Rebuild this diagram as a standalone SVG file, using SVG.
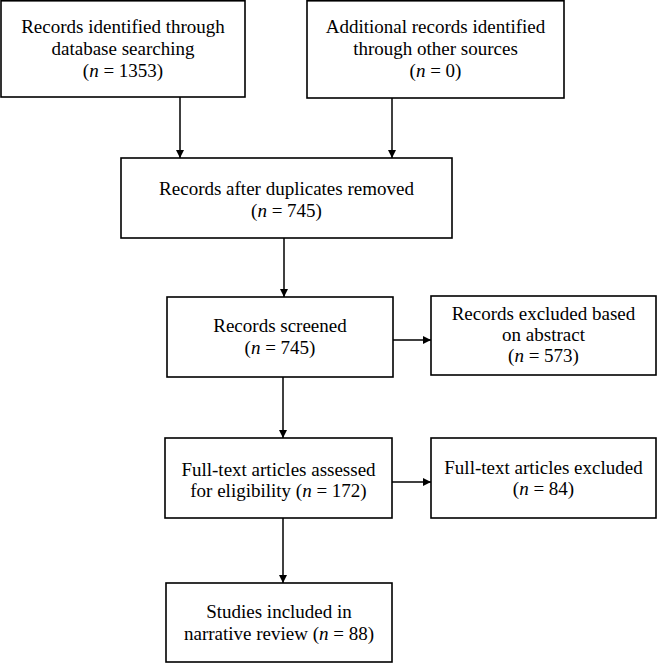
<svg xmlns="http://www.w3.org/2000/svg" width="657" height="663" viewBox="0 0 657 663">
<defs>
<style>
.box{fill:#fff;stroke:#000;stroke-width:1.6}
.t{font-family:"Liberation Serif","Times New Roman",serif;font-size:19px;fill:#000;text-anchor:middle}
.c{stroke:#000;stroke-width:1.5;fill:none}
.i{font-style:italic}
</style>
<marker id="ah" viewBox="0 0 10 10" refX="10" refY="5" markerWidth="8" markerHeight="8" markerUnits="userSpaceOnUse" orient="auto">
<path d="M0,0 L10,5 L0,10 Z" fill="#000"/>
</marker>
</defs>
<rect width="657" height="663" fill="#fff"/>
<g id="connectors">
<line class="c" x1="180" y1="97" x2="180" y2="158" marker-end="url(#ah)"/>
<line class="c" x1="392" y1="98" x2="392" y2="158" marker-end="url(#ah)"/>
<line class="c" x1="284" y1="238" x2="284" y2="297" marker-end="url(#ah)"/>
<line class="c" x1="393" y1="340" x2="431" y2="340" marker-end="url(#ah)"/>
<line class="c" x1="283" y1="377" x2="283" y2="438" marker-end="url(#ah)"/>
<line class="c" x1="392" y1="482" x2="431" y2="482" marker-end="url(#ah)"/>
<line class="c" x1="283" y1="518" x2="283" y2="583" marker-end="url(#ah)"/>
</g>
<g id="n1">
<rect class="box" x="1" y="0.8" width="244" height="96.2"/>
<text class="t" x="123" y="33">Records identified through</text>
<text class="t" x="123" y="55">database searching</text>
<text class="t" x="123" y="77">(<tspan class="i">n</tspan> = 1353)</text>
</g>
<g id="n2">
<rect class="box" x="307" y="0.8" width="257" height="97.2"/>
<text class="t" x="435.5" y="33">Additional records identified</text>
<text class="t" x="435.5" y="55">through other sources</text>
<text class="t" x="435.5" y="77">(<tspan class="i">n</tspan> = 0)</text>
</g>
<g id="n3">
<rect class="box" x="121" y="158" width="331" height="80"/>
<text class="t" x="286.5" y="195">Records after duplicates removed</text>
<text class="t" x="286.5" y="217">(<tspan class="i">n</tspan> = 745)</text>
</g>
<g id="n4">
<rect class="box" x="167" y="297" width="226" height="80"/>
<text class="t" x="280" y="332">Records screened</text>
<text class="t" x="280" y="354">(<tspan class="i">n</tspan> = 745)</text>
</g>
<g id="n5">
<rect class="box" x="431" y="296" width="225" height="79"/>
<text class="t" x="543.5" y="320">Records excluded based</text>
<text class="t" x="543.5" y="341">on abstract</text>
<text class="t" x="543.5" y="362">(<tspan class="i">n</tspan> = 573)</text>
</g>
<g id="n6">
<rect class="box" x="165" y="438" width="227" height="80"/>
<text class="t" x="278.5" y="476">Full-text articles assessed</text>
<text class="t" x="278.5" y="497">for eligibility (<tspan class="i">n</tspan> = 172)</text>
</g>
<g id="n7">
<rect class="box" x="431" y="438" width="225" height="80"/>
<text class="t" x="543.5" y="474">Full-text articles excluded</text>
<text class="t" x="543.5" y="495">(<tspan class="i">n</tspan> = 84)</text>
</g>
<g id="n8">
<rect class="box" x="166" y="583" width="226" height="79"/>
<text class="t" x="279" y="618">Studies included in</text>
<text class="t" x="279" y="640">narrative review (<tspan class="i">n</tspan> = 88)</text>
</g>
</svg>
